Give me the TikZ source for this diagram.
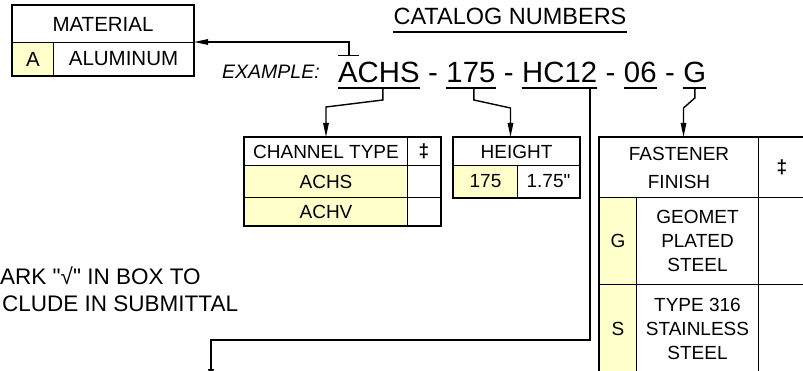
\documentclass[tikz,border=0pt]{standalone}
\usepackage{fontspec}
\setmainfont{Liberation Sans}
\newfontfamily\plainfont{Liberation Sans}
\usetikzlibrary{arrows.meta,calc}
\definecolor{paleyellow}{RGB}{255,255,204}
\newcommand{\myfs}[1]{\fontsize{#1}{#1}\selectfont}
\newcommand{\tabfont}{\fontsize{19}{24}\selectfont}
\newcommand{\hdfont}{\fontsize{19}{28}\selectfont}
\begin{document}
\begin{tikzpicture}[x=1pt,y=-1pt,
  cell/.style={draw=black, line width=1pt, inner sep=0pt, anchor=north west, align=center, font=\tabfont},
  yel/.style={fill=paleyellow},
  frame/.style={draw=black, line width=1.6pt},
  leader/.style={draw=black, line width=1.4pt},
  arr/.style={leader, -{Triangle[length=14pt,width=5.5pt]}},
  big/.style={font=\myfs{29.3}, inner sep=0pt, anchor=base west},
  uline/.style={draw=black, line width=1.4pt},
  txt/.style={inner sep=0pt}
]
\useasboundingbox (0,0) rectangle (803,371);

% MATERIAL box
\node[cell, minimum width=181pt, minimum height=37pt, font=\myfs{20.5}] (mathead) at (12,5) {MATERIAL};
\node[cell, yel, minimum width=41pt, minimum height=33pt, font=\myfs{20.5}] (matcode) at (12,42) {A};
\node[cell, minimum width=140pt, minimum height=33pt, font=\myfs{20.5}] (matname) at (53,42) {ALUMINUM};
\draw[line width=2pt] (mathead.north west) rectangle (matname.south east);

% title
\node[txt, font=\myfs{23.5}, anchor=base] (cat) at (510,25) {CATALOG NUMBERS};
\draw[uline] ([yshift=-7pt]cat.base west) -- ([yshift=-7pt]cat.base east);

% example
\node[txt, font=\myfs{19.5}\itshape, anchor=base west] (ex) at (222,79) {EXAMPLE:};
\node[big] (achs) at (338,83) {ACHS};
\node[big] (d1) at ([xshift=8.15pt]achs.base east) {-};
\node[big] (n175) at ([xshift=8.15pt]d1.base east) {175};
\node[big] (d2) at ([xshift=8.15pt]n175.base east) {-};
\node[big] (hc) at ([xshift=8.15pt]d2.base east) {HC12};
\node[big] (d3) at ([xshift=8.15pt]hc.base east) {-};
\node[big] (n06) at ([xshift=8.15pt]d3.base east) {06};
\node[big] (d4) at ([xshift=8.15pt]n06.base east) {-};
\node[big] (g) at ([xshift=8.15pt]d4.base east) {G};
\foreach \n in {achs,n175,hc,n06,g}
  \draw[uline] ([yshift=-5pt]\n.base west) -- ([yshift=-5pt]\n.base east);

% CHANNEL TYPE table
\node[cell, minimum width=163pt, minimum height=28pt] (chanhead) at (244,137) {CHANNEL TYPE};
\node[cell, minimum width=33pt, minimum height=28pt] (chandag) at (407,137) {\bfseries ‡};
\node[cell, yel, minimum width=163pt, minimum height=32pt] (achsc) at (244,165) {ACHS};
\node[cell, minimum width=33pt, minimum height=32pt] (achsb) at (407,165) {};
\node[cell, yel, minimum width=163pt, minimum height=28pt] (achvc) at (244,197) {ACHV};
\node[cell, minimum width=33pt, minimum height=28pt] (achvb) at (407,197) {};
\draw[frame] (chanhead.north west) rectangle (achvb.south east);

% HEIGHT table
\node[cell, minimum width=126pt, minimum height=28pt] (hhead) at (453,137) {HEIGHT};
\node[cell, yel, minimum width=64pt, minimum height=32pt] (hcode) at (453,165) {175};
\node[cell, minimum width=62pt, minimum height=32pt] (hval) at (517,165) {\plainfont 1.75"};
\draw[frame] (hhead.north west) rectangle (hval.south east);

% FASTENER FINISH table
\node[cell, minimum width=159pt, minimum height=60pt, font=\hdfont] (fhead) at (599,137) {FASTENER\\FINISH};
\node[cell, minimum width=47pt, minimum height=60pt] (fdag) at (758,137) {\bfseries ‡};
\node[cell, yel, minimum width=37pt, minimum height=87pt] (gcode) at (599,197) {G};
\node[cell, minimum width=122pt, minimum height=87pt] (gdesc) at (636,197) {GEOMET\\PLATED\\STEEL};
\node[cell, minimum width=47pt, minimum height=87pt] (gbox) at (758,197) {};
\node[cell, yel, minimum width=37pt, minimum height=88pt] (scode) at (599,284) {S};
\node[cell, minimum width=122pt, minimum height=88pt] (sdesc) at (636,284) {TYPE 316\\STAINLESS\\STEEL};
\node[cell, minimum width=47pt, minimum height=88pt] (sbox) at (758,284) {};
\draw[frame] (fhead.north west) rectangle (sbox.south east);

% note
\node[txt, font=\myfs{22.5}\plainfont, anchor=base west] (note1) at (0,285) {ARK "√" IN BOX TO};
\node[txt, font=\myfs{22.5}\plainfont, anchor=base west] (note2) at (2,312) {CLUDE IN SUBMITTAL};

% leaders
\coordinate (endpt) at (211,383);
\draw[leader] ([yshift=7pt]achs.north west) -- ([xshift=21pt,yshift=7pt]achs.north west);
\draw[arr] ([xshift=11pt,yshift=7pt]achs.north west) |- (matname.north east);
\draw[arr] ([xshift=4pt,yshift=-5pt]achs.base) -- ++(0,12) -- ([yshift=30pt]chanhead.north) -- (chanhead.north);
\draw[arr] ([xshift=3pt,yshift=-5pt]n175.base) -- ++(0,12) -- ([xshift=-6pt,yshift=29pt]hhead.north) -- ([xshift=-6pt]hhead.north);
\draw[arr] ([xshift=30.5pt,yshift=-5pt]hc.base) -- ++(0,252) -| (endpt);
\draw[arr] ([yshift=-5pt]g.base) -- ++(0,10) -- ([xshift=4.5pt,yshift=29pt]fhead.north) -- ([xshift=4.5pt]fhead.north);
\end{tikzpicture}
\end{document}
